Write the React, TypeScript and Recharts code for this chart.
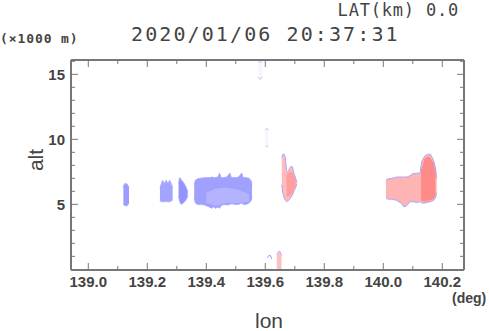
import React from 'react';
import { ComposedChart, Area, XAxis, YAxis } from 'recharts';

// ---- data ----
const xMajorTicks = [139.0, 139.2, 139.4, 139.6, 139.8, 140.0, 140.2];
const xAllTicks = [139.0, 139.1, 139.2, 139.3, 139.4, 139.5, 139.6, 139.7, 139.8, 139.9, 140.0, 140.1, 140.2];
const yMajorTicks = [5, 10, 15];
const yAllTicks = [1, 2, 3, 4, 5, 6, 7, 8, 9, 10, 11, 12, 13, 14, 15, 16];

const blobA = [
  { lon: 139.119, r: [5.0, 6.4] },
  { lon: 139.124, r: [4.9, 6.6] },
  { lon: 139.132, r: [4.9, 6.55] },
  { lon: 139.138, r: [5.1, 6.3] },
];
const blobB = [
  { lon: 139.243, r: [5.3, 6.3] },
  { lon: 139.247, r: [5.2, 6.55] },
  { lon: 139.252, r: [5.2, 6.85] },
  { lon: 139.258, r: [5.2, 6.6] },
  { lon: 139.264, r: [5.2, 6.85] },
  { lon: 139.27, r: [5.2, 6.6] },
  { lon: 139.276, r: [5.2, 6.85] },
  { lon: 139.282, r: [5.25, 6.55] },
  { lon: 139.286, r: [5.35, 6.3] },
];
const blobC = [
  { lon: 139.306, r: [5.6, 6.6] },
  { lon: 139.31, r: [5.2, 7.05] },
  { lon: 139.315, r: [5.0, 6.9] },
  { lon: 139.322, r: [5.1, 6.7] },
  { lon: 139.33, r: [5.3, 6.4] },
  { lon: 139.337, r: [5.6, 6.0] },
];
const blobD = [
  { lon: 139.359, r: [5.5, 6.5] },
  { lon: 139.363, r: [5.1, 6.85] },
  { lon: 139.37, r: [5.0, 6.95] },
  { lon: 139.38, r: [5.0, 7.0] },
  { lon: 139.395, r: [4.95, 7.05] },
  { lon: 139.41, r: [4.8, 7.05] },
  { lon: 139.42, r: [4.7, 7.1] },
  { lon: 139.425, r: [4.85, 7.05] },
  { lon: 139.43, r: [4.7, 7.05] },
  { lon: 139.44, r: [4.8, 7.1] },
  { lon: 139.445, r: [4.7, 7.4] },
  { lon: 139.45, r: [4.9, 7.05] },
  { lon: 139.46, r: [5.0, 7.05] },
  { lon: 139.47, r: [4.95, 7.1] },
  { lon: 139.48, r: [5.0, 7.4] },
  { lon: 139.485, r: [5.05, 7.05] },
  { lon: 139.5, r: [5.0, 7.05] },
  { lon: 139.51, r: [5.0, 7.1] },
  { lon: 139.52, r: [5.1, 7.4] },
  { lon: 139.525, r: [5.0, 7.05] },
  { lon: 139.535, r: [5.0, 7.05] },
  { lon: 139.545, r: [5.1, 7.0] },
  { lon: 139.552, r: [5.3, 6.8] },
  { lon: 139.555, r: [5.5, 6.5] },
];
const blobDLight = [
  { lon: 139.4, r: [5.1, 5.9] },
  { lon: 139.43, r: [4.9, 6.2] },
  { lon: 139.47, r: [5.1, 6.3] },
  { lon: 139.51, r: [5.1, 6.1] },
  { lon: 139.545, r: [5.2, 5.8] },
];
const blobE = [
  { lon: 139.576, r: [14.8, 15.9] },
  { lon: 139.583, r: [14.6, 16.0] },
  { lon: 139.59, r: [14.8, 15.9] },
];
const blobF = [
  { lon: 139.6, r: [9.5, 10.7] },
  { lon: 139.605, r: [9.4, 10.85] },
  { lon: 139.61, r: [9.5, 10.7] },
];
const blobG = [
  { lon: 139.607, r: [0, 0.9] },
  { lon: 139.611, r: [0, 1.05] },
  { lon: 139.618, r: [0, 1.05] },
  { lon: 139.622, r: [0, 0.8] },
];
const blobH = [
  { lon: 139.639, r: [0, 1.1] },
  { lon: 139.645, r: [0, 1.4] },
  { lon: 139.651, r: [0, 1.35] },
  { lon: 139.655, r: [0, 1.0] },
];
const blobI = [
  { lon: 139.656, r: [6.5, 8.6] },
  { lon: 139.659, r: [5.9, 8.85] },
  { lon: 139.664, r: [5.5, 8.85] },
  { lon: 139.668, r: [5.3, 8.6] },
  { lon: 139.672, r: [5.2, 7.6] },
  { lon: 139.676, r: [5.25, 7.5] },
  { lon: 139.681, r: [5.35, 7.7] },
  { lon: 139.686, r: [5.5, 7.9] },
  { lon: 139.692, r: [5.7, 7.9] },
  { lon: 139.697, r: [6.0, 7.4] },
  { lon: 139.703, r: [6.3, 7.0] },
  { lon: 139.707, r: [6.6, 6.7] },
];
const blobIDark = [
  { lon: 139.672, r: [5.6, 7.3] },
  { lon: 139.683, r: [5.6, 7.5] },
  { lon: 139.692, r: [5.9, 7.5] },
  { lon: 139.703, r: [6.4, 6.9] },
];
const blobJ = [
  { lon: 140.009, r: [5.5, 6.85] },
  { lon: 140.015, r: [5.4, 6.95] },
  { lon: 140.03, r: [5.4, 7.0] },
  { lon: 140.045, r: [5.3, 7.1] },
  { lon: 140.06, r: [5.1, 7.1] },
  { lon: 140.07, r: [4.8, 7.1] },
  { lon: 140.08, r: [4.9, 7.1] },
  { lon: 140.09, r: [5.2, 7.2] },
  { lon: 140.1, r: [5.2, 7.35] },
  { lon: 140.115, r: [5.15, 7.4] },
  { lon: 140.125, r: [5.2, 7.4] },
  { lon: 140.13, r: [5.1, 8.3] },
  { lon: 140.14, r: [5.1, 8.7] },
  { lon: 140.15, r: [5.15, 8.85] },
  { lon: 140.16, r: [5.2, 8.85] },
  { lon: 140.17, r: [5.3, 8.4] },
  { lon: 140.177, r: [5.5, 7.8] },
  { lon: 140.181, r: [5.9, 7.0] },
];
const blobJDark = [
  { lon: 140.128, r: [5.3, 7.6] },
  { lon: 140.14, r: [5.2, 8.5] },
  { lon: 140.155, r: [5.3, 8.7] },
  { lon: 140.17, r: [5.4, 8.2] },
  { lon: 140.177, r: [5.7, 7.5] },
];

const W = 490;
const H = 331;
const TXT = '#444';

const near = (a: number, list: number[]) => list.some((m) => Math.abs(m - a) < 1e-6);

const BottomTick = (props: any) => {
  const { x, y, payload } = props;
  const major = near(payload.value, xMajorTicks);
  return (
    <g>
      <line x1={x} y1={y} x2={x} y2={y - (major ? 7 : 4)} stroke="#777" strokeWidth={1} />
      {major && (
        <text x={x} y={y + 17} textAnchor="middle" fontFamily="Liberation Sans, Arial, sans-serif" fontWeight="bold" fontSize={15} fill={TXT}>
          {payload.value.toFixed(1)}
        </text>
      )}
    </g>
  );
};
const TopTick = (props: any) => {
  const { x, y, payload } = props;
  const major = near(payload.value, xMajorTicks);
  return <line x1={x} y1={y} x2={x} y2={y + (major ? 7 : 4)} stroke="#777" strokeWidth={1} />;
};
const LeftTick = (props: any) => {
  const { x, y, payload } = props;
  const major = near(payload.value, yMajorTicks);
  return (
    <g>
      <line x1={x} y1={y} x2={x + (major ? 7 : 4)} y2={y} stroke="#777" strokeWidth={1} />
      {major && (
        <text x={x - 6} y={y + 5.5} textAnchor="end" fontFamily="Liberation Sans, Arial, sans-serif" fontWeight="bold" fontSize={15} fill={TXT}>
          {payload.value}
        </text>
      )}
    </g>
  );
};
const RightTick = (props: any) => {
  const { x, y, payload } = props;
  const major = near(payload.value, yMajorTicks);
  return <line x1={x} y1={y} x2={x - (major ? 7 : 4)} y2={y} stroke="#777" strokeWidth={1} />;
};

const blob = (data: any[], fill: string, stroke: string, key: string, fillOpacity = 1) => (
  <Area
    key={key}
    data={data}
    dataKey="r"
    type="linear"
    fill={fill}
    fillOpacity={fillOpacity}
    stroke={stroke}
    strokeWidth={1}
    dot={false}
    activeDot={false}
    isAnimationActive={false}
  />
);

export default function App() {
  return (
    <div style={{ position: 'absolute', left: 0, top: 0, width: W, height: H, background: '#fff', overflow: 'hidden' }}>
      <ComposedChart width={W} height={H} margin={{ top: 59, right: 25, bottom: 60, left: 70 }}>
        <XAxis
          xAxisId={0}
          dataKey="lon"
          type="number"
          domain={[138.9414, 140.2736]}
          allowDataOverflow
          ticks={xAllTicks}
          interval={0}
          tick={<BottomTick />}
          tickLine={false}
          tickSize={0}
          tickMargin={0}
          height={1}
          axisLine={{ stroke: '#777', strokeWidth: 2 }}
        />
        <XAxis
          xAxisId="top"
          orientation="top"
          dataKey="lon"
          type="number"
          domain={[138.9414, 140.2736]}
          allowDataOverflow
          ticks={xAllTicks}
          interval={0}
          tick={<TopTick />}
          tickLine={false}
          tickSize={0}
          tickMargin={0}
          height={1}
          axisLine={{ stroke: '#777', strokeWidth: 2 }}
        />
        <YAxis
          yAxisId={0}
          type="number"
          domain={[-0.05, 16.1]}
          allowDataOverflow
          ticks={yAllTicks}
          interval={0}
          tick={<LeftTick />}
          tickLine={false}
          tickSize={0}
          tickMargin={0}
          width={1}
          axisLine={{ stroke: '#777', strokeWidth: 2 }}
        />
        <YAxis
          yAxisId="right"
          orientation="right"
          type="number"
          domain={[-0.05, 16.1]}
          allowDataOverflow
          ticks={yAllTicks}
          interval={0}
          tick={<RightTick />}
          tickLine={false}
          tickSize={0}
          tickMargin={0}
          width={1}
          axisLine={{ stroke: '#777', strokeWidth: 2 }}
        />
        {blob(blobA, '#9c9cff', '#a8a8ff', 'a')}
        {blob(blobB, '#a4a4ff', '#b0b0ff', 'b')}
        {blob(blobC, '#9494ff', '#a8a8ff', 'c')}
        {blob(blobD, '#a0a0ff', '#a8a8ff', 'd')}
        {blob(blobDLight, '#b8b8ff', 'none', 'dl', 0.8)}
        {blob(blobE, '#f6f6ff', '#c4c4ff', 'e')}
        {blob(blobF, '#f6f6ff', '#c4c4ff', 'f')}
        {blob(blobG, '#ffffff', '#9a9aff', 'g')}
        {blob(blobH, '#ffc0c0', '#d0b0ff', 'h')}
        {blob(blobI, '#ffbcbc', '#a8a8ff', 'i')}
        {blob(blobIDark, '#ff9a9a', 'none', 'id', 0.9)}
        {blob(blobJ, '#ffb4b4', '#a8a8ff', 'j')}
        {blob(blobJDark, '#ff8888', 'none', 'jd', 0.95)}
      </ComposedChart>

      <div style={{ position: 'absolute', right: 31, top: 0, fontFamily: 'DejaVu Sans Mono, monospace', fontSize: 17, letterSpacing: 0.8, color: TXT, whiteSpace: 'nowrap', lineHeight: '20px' }}>
        LAT(km) 0.0
      </div>
      <div style={{ position: 'absolute', left: 0, top: 31, fontFamily: 'DejaVu Sans Mono, monospace', fontWeight: 'bold', fontSize: 13, letterSpacing: 0.9, color: TXT, whiteSpace: 'nowrap' }}>
        (×1000 m)
      </div>
      <div style={{ position: 'absolute', left: 131, top: 22, fontFamily: 'DejaVu Sans Mono, monospace', fontSize: 20, letterSpacing: 2.1, color: TXT, whiteSpace: 'nowrap' }}>
        2020/01/06 20:37:31
      </div>
      <div style={{ position: 'absolute', left: 452, top: 290, fontFamily: 'Liberation Sans, Arial, sans-serif', fontWeight: 'bold', fontSize: 14, color: TXT, whiteSpace: 'nowrap' }}>
        (deg)
      </div>
      <div style={{ position: 'absolute', left: 255, top: 309, fontFamily: 'Liberation Sans, Arial, sans-serif', fontSize: 21, color: TXT, whiteSpace: 'nowrap' }}>
        lon
      </div>
      <div style={{ position: 'absolute', left: 36, top: 160, transform: 'translate(-50%, -50%) rotate(-90deg)', fontFamily: 'Liberation Sans, Arial, sans-serif', fontSize: 21, color: TXT, whiteSpace: 'nowrap' }}>
        alt
      </div>
    </div>
  );
}
